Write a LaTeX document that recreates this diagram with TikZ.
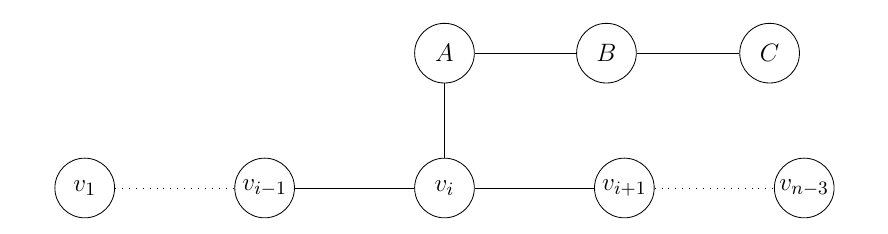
\documentclass[tikz,border=0pt]{standalone}
\usetikzlibrary{positioning}

\begin{document}
\begin{tikzpicture}[
    node distance = 1.245cm and 2cm,
    vertex/.style = {
        circle, draw,
        minimum size=1cm,
        inner sep=0pt,
        font=\fontsize{13}{15}\selectfont
    },
    link/.style = {thin},
    gap/.style  = {dash pattern=on 0.4pt off 2.9pt}
]
\useasboundingbox (-1.42,-0.77) rectangle (13.46,3.15);

%% Path Nodes
\node[vertex]                  (v1)  {$v_1$};
\node[vertex, right=of v1]     (vim) {$v_{i-1}$};
\node[vertex, right=of vim]    (vi)  {$v_i$};
\node[vertex, right=of vi]     (vip) {$v_{i+1}$};
\node[vertex, right=of vip]    (vn)  {$v_{n-3}$};

%% Branch Nodes
\node[vertex, above=of vi]       (a) {$A$};
\node[vertex, right=1.7cm of a]  (b) {$B$};
\node[vertex, right=1.72cm of b] (c) {$C$};

%% Edges
\draw[gap]  (v1)  -- (vim);
\draw[link] (vim) -- (vi);
\draw[link] (vi)  -- (vip);
\draw[gap]  (vip) -- (vn);
\draw[link] (vi)  -- (a);
\draw[link] (a)   -- (b);
\draw[link] (b)   -- (c);

\end{tikzpicture}
\end{document}
